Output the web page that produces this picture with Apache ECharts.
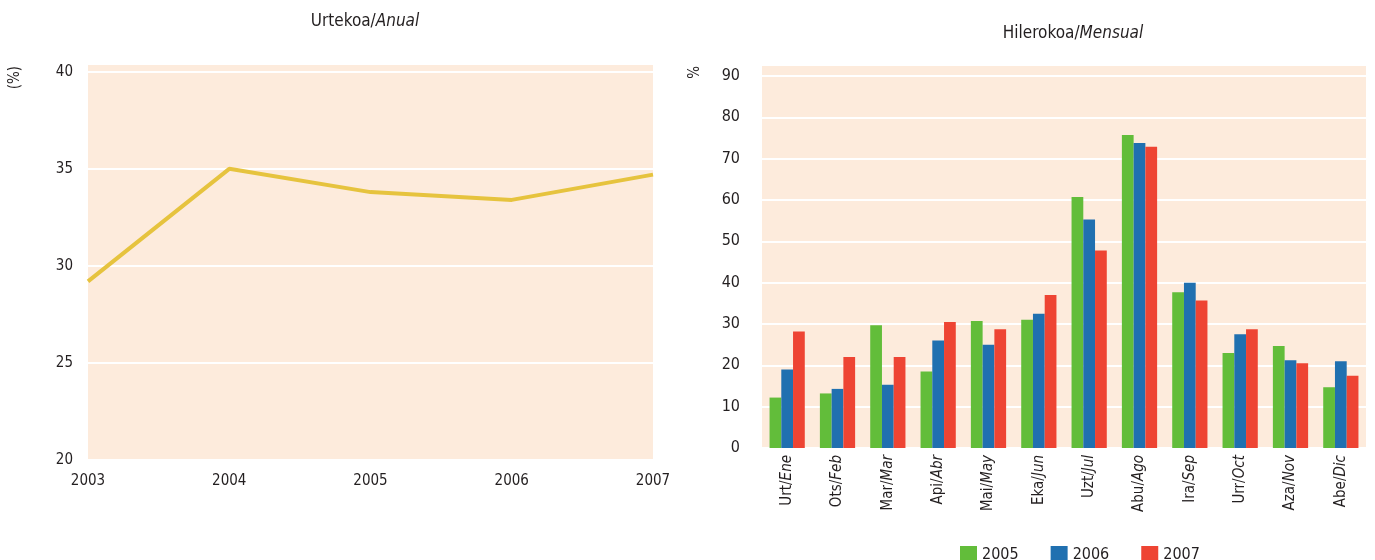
<!DOCTYPE html>
<html>
<head>
<meta charset="utf-8">
<script src="https://cdn.jsdelivr.net/npm/echarts@6/dist/echarts.min.js"></script>
<style>
  html, body { margin: 0; padding: 0; background: #ffffff; }
  #chart { width: 1375px; height: 560px; }
</style>
</head>
<body>
<div id="chart"></div>
<script>
// Annual rate (%)
const years = ['2003', '2004', '2005', '2006', '2007'];
const annualRate = [29.2, 35.0, 33.8, 33.4, 34.7];
const annualTicks = { min: 20, max: 40, interval: 5 };

// Monthly rate (%), Basque / Spanish month names
const monthsEu = ['Urt', 'Ots', 'Mar', 'Api', 'Mai', 'Eka', 'Uzt', 'Abu', 'Ira', 'Urr', 'Aza', 'Abe'];
const monthsEs = ['Ene', 'Feb', 'Mar', 'Abr', 'May', 'Jun', 'Jul', 'Ago', 'Sep', 'Oct', 'Nov', 'Dic'];
const seriesNames = ['2005', '2006', '2007'];
const values2005 = [12.2, 13.2, 29.7, 18.5, 30.7, 31.0, 60.7, 75.7, 37.7, 23.0, 24.7, 14.7];
const values2006 = [19.0, 14.3, 15.3, 26.0, 25.0, 32.5, 55.3, 73.8, 40.0, 27.5, 21.2, 21.0];
const values2007 = [28.2, 22.0, 22.0, 30.5, 28.7, 37.0, 47.8, 72.9, 35.7, 28.7, 20.5, 17.5];
const monthlyTicks = { min: 0, max: 90, interval: 10 };

const FONT = "'Liberation Sans Narrow', 'DejaVu Sans Condensed', 'Roboto Condensed', sans-serif";
const TEXT = '#231f20';
const PANEL = '#fdebdc';
const COLORS = ['#62bd3a', '#2070b0', '#ee4433'];

const chart = echarts.init(document.getElementById('chart'), null, { renderer: 'canvas' });

const titleRich = {
  n: { fontFamily: FONT, fontSize: 17, fontWeight: 'normal', color: TEXT },
  i: { fontFamily: FONT, fontSize: 17, fontWeight: 'normal', color: TEXT, fontStyle: 'italic' }
};

const option = {
  backgroundColor: '#ffffff',
  animation: false,
  textStyle: { fontFamily: FONT },
  title: [
    { text: '{n|Urtekoa/}{i|Anual}', left: 360, top: 8, textAlign: 'center',
      textStyle: { fontWeight: 'normal', rich: titleRich } },
    { text: '{n|Hilerokoa/}{i|Mensual}', left: 1068, top: 20, textAlign: 'center',
      textStyle: { fontWeight: 'normal', rich: titleRich } }
  ],
  legend: {
    data: seriesNames,
    left: 955,
    top: 541,
    icon: 'rect',
    itemWidth: 17,
    itemHeight: 17,
    itemGap: 32,
    textStyle: { fontFamily: FONT, fontSize: 16, color: TEXT }
  },
  graphic: [
    { type: 'text', left: 8, top: 66, rotation: Math.PI / 2,
      style: { text: '(%)', font: '15px ' + FONT, fill: TEXT } },
    { type: 'text', left: 688, top: 66, rotation: Math.PI / 2,
      style: { text: '%', font: '15px ' + FONT, fill: TEXT } }
  ],
  grid: [
    { left: 88, right: 722, top: 64, bottom: 100, show: true, backgroundColor: PANEL, borderWidth: 0 },
    { left: 762, right: 9, top: 65, bottom: 112, show: true, backgroundColor: PANEL, borderWidth: 0 }
  ],
  xAxis: [
    {
      gridIndex: 0, type: 'category', data: years, boundaryGap: false,
      axisLine: { show: false }, axisTick: { show: false },
      axisLabel: { margin: 14, fontFamily: FONT, fontSize: 15, color: TEXT }
    },
    {
      gridIndex: 1, type: 'category', data: monthsEu,
      axisLine: { show: false }, axisTick: { show: false },
      axisLabel: {
        interval: 0, rotate: 90, margin: 7,
        formatter: (v, i) => `{n|${monthsEu[i]}/}{i|${monthsEs[i]}}`,
        rich: {
          n: { fontFamily: FONT, fontSize: 15, color: TEXT },
          i: { fontFamily: FONT, fontSize: 15, color: TEXT, fontStyle: 'italic' }
        }
      }
    }
  ],
  yAxis: [
    {
      gridIndex: 0, type: 'value',
      min: annualTicks.min, max: annualTicks.max + 0.4, interval: annualTicks.interval,
      axisLine: { show: false }, axisTick: { show: false },
      axisLabel: { showMaxLabel: false, margin: 15, padding: [0, 0, 10, 0],
        fontFamily: FONT, fontSize: 15, color: TEXT },
      splitLine: { show: true, lineStyle: { color: '#ffffff', width: 2 } }
    },
    {
      gridIndex: 1, type: 'value',
      min: monthlyTicks.min, max: monthlyTicks.max + 2.66, interval: monthlyTicks.interval,
      axisLine: { show: false }, axisTick: { show: false },
      axisLabel: { showMaxLabel: false, margin: 22, padding: [0, 0, 10, 0],
        fontFamily: FONT, fontSize: 16, color: TEXT },
      splitLine: { show: true, lineStyle: { color: '#ffffff', width: 2 } }
    }
  ],
  series: [
    {
      name: 'annual', type: 'line', xAxisIndex: 0, yAxisIndex: 0,
      data: annualRate, symbol: 'none',
      lineStyle: { color: '#e6c33e', width: 4 }
    },
    {
      name: seriesNames[0], type: 'bar', xAxisIndex: 1, yAxisIndex: 1,
      data: values2005, itemStyle: { color: COLORS[0] },
      barGap: '0%', barCategoryGap: '30%'
    },
    {
      name: seriesNames[1], type: 'bar', xAxisIndex: 1, yAxisIndex: 1,
      data: values2006, itemStyle: { color: COLORS[1] },
      barGap: '0%', barCategoryGap: '30%'
    },
    {
      name: seriesNames[2], type: 'bar', xAxisIndex: 1, yAxisIndex: 1,
      data: values2007, itemStyle: { color: COLORS[2] },
      barGap: '0%', barCategoryGap: '30%'
    }
  ]
};

chart.setOption(option);
</script>
</body>
</html>
